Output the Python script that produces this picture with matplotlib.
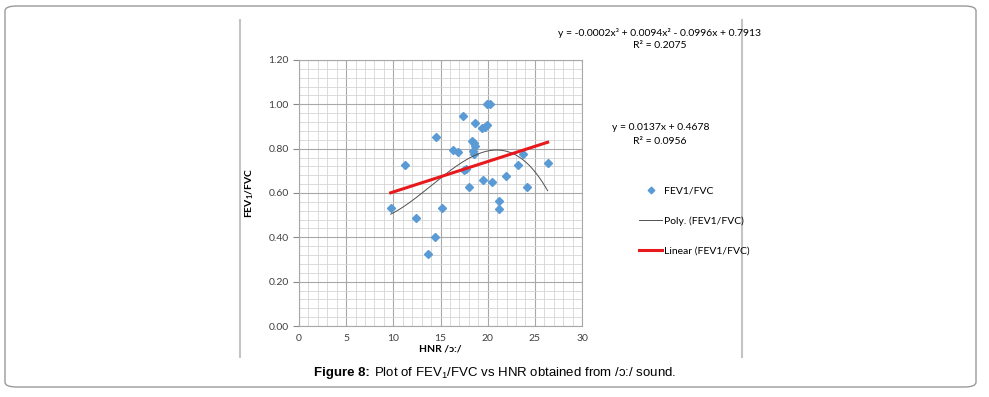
import numpy as np
import matplotlib.pyplot as plt
from matplotlib.patches import FancyBboxPatch
from matplotlib.lines import Line2D
from matplotlib.ticker import MultipleLocator

# HNR /ɔ:/ values and FEV1/FVC ratios
hnr = [9.72, 11.2, 12.4, 13.7, 14.45, 14.56, 15.16, 16.29, 16.82, 17.35, 17.49,
       17.67, 18.02, 18.34, 18.5, 18.66, 18.4, 18.6, 18.66, 19.43, 19.68, 19.96,
       19.47, 19.93, 20.2, 20.46, 21.2, 21.2, 21.98, 23.18, 23.71, 24.2, 26.36]
ratio = [0.531, 0.726, 0.489, 0.325, 0.400, 0.851, 0.531, 0.792, 0.783, 0.946, 0.702,
         0.707, 0.629, 0.833, 0.824, 0.812, 0.789, 0.776, 0.914, 0.895, 0.899, 0.905,
         0.660, 1.0, 1.0, 0.648, 0.564, 0.526, 0.675, 0.726, 0.777, 0.629, 0.737]

lin_coef = [0.0137, 0.4678]
poly_eq = "y = -0.0002x³ + 0.0094x² - 0.0996x + 0.7913"
poly_r2 = "R² = 0.2075"
lin_eq = "y = 0.0137x + 0.4678"
lin_r2 = "R² = 0.0956"

plt.rcParams['font.family'] = ['Lato', 'DejaVu Sans']
plt.rcParams['mathtext.fontset'] = 'custom'
plt.rcParams['mathtext.rm'] = 'Liberation Sans'
plt.rcParams['mathtext.bf'] = 'Lato:bold'

fig = plt.figure(figsize=(9.89, 3.97), dpi=100)

# outer frame and chart-area borders
fig.patches.append(FancyBboxPatch((5 / 989, 10 / 397), 971 / 989, 381 / 397,
                                  boxstyle="round,pad=0,rounding_size=0.012",
                                  transform=fig.transFigure, fill=False,
                                  edgecolor='#9a9a9a', linewidth=1.0))
for xpx in (240, 742):
    fig.lines.append(Line2D([xpx / 989, xpx / 989], [1 - 20 / 397, 1 - 357 / 397],
                            transform=fig.transFigure, color='#c4c4c4', linewidth=1.5))

ax = fig.add_axes([299 / 989, 1 - 326 / 397, 283 / 989, 266 / 397])
ax.set_xlim(0, 30)
ax.set_ylim(0, 1.2)
ax.xaxis.set_major_locator(MultipleLocator(5))
ax.xaxis.set_minor_locator(MultipleLocator(1))
ax.yaxis.set_major_locator(MultipleLocator(0.2))
ax.yaxis.set_minor_locator(MultipleLocator(0.04))
ax.grid(which='major', color='#a8a8a8', linewidth=0.8)
ax.grid(which='minor', color='#d4d4d4', linewidth=0.6)
ax.set_axisbelow(True)
for s in ax.spines.values():
    s.set_color('#a8a8a8')
    s.set_linewidth(0.8)
ax.tick_params(which='major', length=4, color='#888888', labelsize=7.5, labelcolor='#404040')
ax.tick_params(axis='x', which='major', length=0, pad=6)
ax.tick_params(which='minor', length=0)
ax.yaxis.set_major_formatter(plt.FuncFormatter(lambda v, p: f"{v:.2f}"))

pts, = ax.plot(hnr, ratio, linestyle='none', marker='D', markersize=4.2,
               color='#5b9bd5', label='FEV1/FVC', zorder=3)

xs = np.linspace(min(hnr), max(hnr), 200)
pc = np.polyfit(hnr, ratio, 3)
poly, = ax.plot(xs, np.polyval(pc, xs), color='#505050', linewidth=0.7,
                label='Poly. (FEV1/FVC)', zorder=4)
lin, = ax.plot(xs, np.polyval(lin_coef, xs), color='#e8191c', linewidth=2.2,
               label='Linear (FEV1/FVC)', zorder=4)

ax.set_xlabel("HNR /ɔ:/", fontsize=7.5, fontweight='bold', labelpad=1)
ax.set_ylabel(r"FEV$_\mathbf{1}$/FVC", fontsize=7.5, fontweight='bold', labelpad=9)

fig.text(659 / 989, 1 - 33 / 397, poly_eq, fontsize=7.5, ha='center', va='center')
fig.text(660 / 989, 1 - 46 / 397, poly_r2, fontsize=7.5, ha='center', va='center')
fig.text(661 / 989, 1 - 127 / 397, lin_eq, fontsize=7.5, ha='center', va='center')
fig.text(660 / 989, 1 - 141 / 397, lin_r2, fontsize=7.5, ha='center', va='center')

fig.legend(handles=[pts, poly, lin], loc='center left',
           bbox_to_anchor=(634 / 989, 1 - 221 / 397), frameon=False,
           fontsize=7.5, labelspacing=2.0, handlelength=2.2, handletextpad=0.15,
           borderpad=0, markerscale=0.8)

cap = ['Liberation Sans', 'DejaVu Sans']
plt.rcParams['mathtext.rm'] = 'Liberation Sans'
fig.text(370 / 989, 1 - 373 / 397, "Figure 8:", fontsize=9.5, family=cap,
         fontweight='bold', ha='right', va='center')
fig.text(374 / 989, 1 - 373 / 397,
         r"Plot of FEV$_1$/FVC vs HNR obtained from /ɔ:/ sound.",
         fontsize=9.5, family=cap, ha='left', va='center')

fig.savefig('out.png', dpi=100)
